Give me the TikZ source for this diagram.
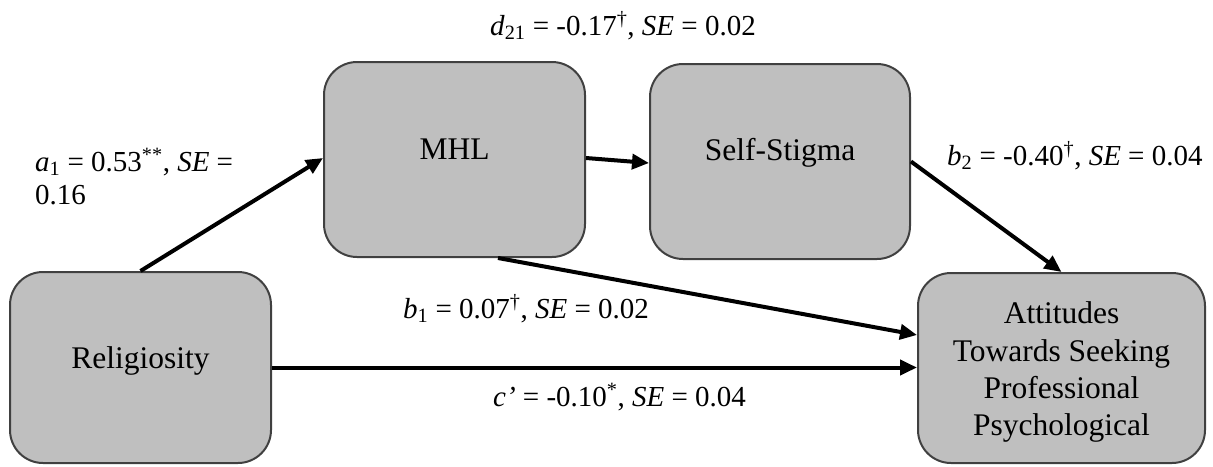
\documentclass[tikz,border=0pt]{standalone}
\usepackage{fontspec}
\setmainfont{Liberation Serif}
\usetikzlibrary{arrows.meta}
\definecolor{boxfill}{RGB}{191,191,191}
\definecolor{boxline}{RGB}{64,64,64}

\begin{document}
\begin{tikzpicture}[x=1pt,y=-1pt,
  box/.style={draw=boxline, line width=2pt, fill=boxfill, rounded corners=33pt, inner sep=0pt},
  boxtext/.style={font=\fontsize{31.5}{37.5}\selectfont, inner sep=0pt, anchor=base},
  coef/.style={font=\fontsize{29}{33}\selectfont, inner sep=0pt, anchor=base west},
  link/.style={line width=4pt, -{Triangle[length=17pt,width=15pt]}}
]
\useasboundingbox (0,0) rectangle (1213,466);

% variables
\node[box, minimum width=261pt, minimum height=191pt] (rel) at (140.5,367.5) {};
\node[box, minimum width=261pt, minimum height=195pt] (mhl) at (454.5,159.5) {};
\node[box, minimum width=260pt, minimum height=195pt] (ss)  at (780,161.5) {};
\node[box, minimum width=287pt, minimum height=190pt] (att) at (1061.5,368) {};

\node[boxtext] (reltext) at (140.5,368) {Religiosity};
\node[boxtext] (mhltext) at (454.5,159) {MHL};
\node[boxtext] (sstext)  at (780,160) {Self-Stigma};
\node[boxtext] (att1) at (1061.5,323) {Attitudes};
\node[boxtext] (att2) at (1061.5,361) {Towards Seeking};
\node[boxtext] (att3) at (1061.5,398) {Professional};
\begin{scope}
  \clip (918,273) rectangle (1205,445);
  \node[boxtext] (att4) at (1061.5,435) {Psychological};
\end{scope}

% paths
\draw[link] (rel.north) -- ([yshift=1.5pt]mhl.west);
\draw[link] ([yshift=1.5pt]mhl.east) -- ([yshift=-1.5pt]ss.west);
\draw[link] (ss.east) -- (att.north);
\draw[link] ([xshift=43.5pt]mhl.south) -- ([yshift=33pt]att.west);
\draw[link] (rel.east) -- (rel.east -| att.west);

% coefficients
\node[coef] (a1)  at (35,171) {\textit{a}\textsubscript{1} = 0.53\textsuperscript{**}, \textit{SE} =};
\node[coef] (a1b) at (35,204) {0.16};
\node[coef] (d21) at (490,35) {\textit{d}\textsubscript{21} = -0.17\textsuperscript{†}, \textit{SE} = 0.02};
\node[coef] (b2)  at (947,165) {\textit{b}\textsubscript{2} = -0.40\textsuperscript{†}, \textit{SE} = 0.04};
\node[coef] (b1)  at (403,318) {\textit{b}\textsubscript{1} = 0.07\textsuperscript{†}, \textit{SE} = 0.02};
\node[coef] (cp)  at (493,406) {\textit{c’} = -0.10\textsuperscript{*}, \textit{SE} = 0.04};
\end{tikzpicture}
\end{document}
